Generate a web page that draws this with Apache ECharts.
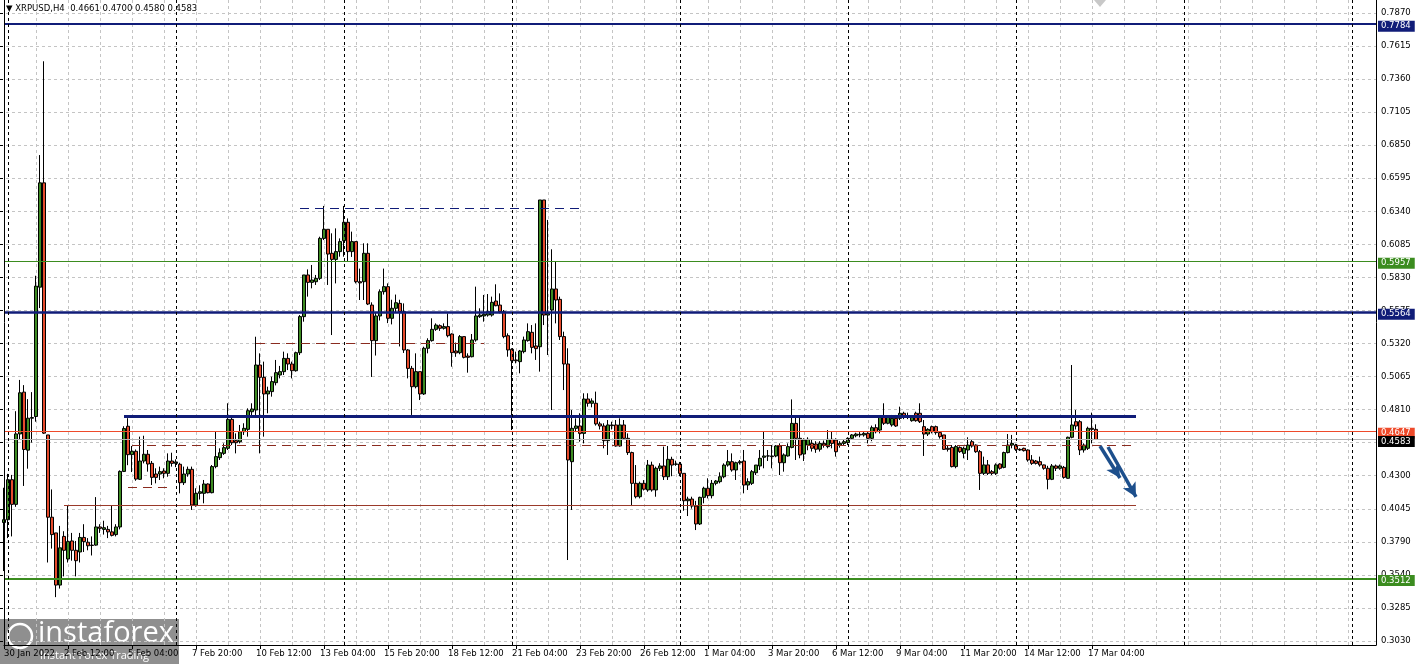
<!DOCTYPE html>
<html>
<head>
<meta charset="utf-8">
<title>XRPUSD H4</title>
<script src="https://cdn.jsdelivr.net/npm/echarts@6/dist/echarts.min.js"></script>
<style>
  html, body { margin: 0; padding: 0; background: #fff; }
  #chart { width: 1418px; height: 664px; }
</style>
</head>
<body>
<div id="chart"></div>
<script>
// H4 bars, the first one is 30 Jan 20:00, one slot per bar
const opens = [
  0.3943,0.3965,0.4273,0.4083,0.4626,0.4948,0.4501,0.4747,0.4760,0.5757,
  0.6561,0.4618,0.3984,0.3863,0.3461,0.3836,0.3662,0.3801,0.3729,0.3716,
  0.3828,0.3791,0.3769,0.3769,0.3909,0.3890,0.3890,0.3871,0.3850,0.3909,
  0.4337,0.4685,0.4466,0.4492,0.4276,0.4417,0.4469,0.4399,0.4317,0.4317,
  0.4340,0.4322,0.4417,0.4399,0.4392,0.4250,0.4317,0.4353,0.4078,0.4168,
  0.4168,0.4240,0.4173,0.4374,0.4443,0.4476,0.4515,0.4738,0.4574,0.4566,
  0.4643,0.4661,0.4797,0.4810,0.5157,0.5062,0.4934,0.4952,0.5021,0.5080,
  0.5106,0.5208,0.5165,0.5113,0.5252,0.5530,0.5851,0.5794,0.5799,0.5825,
  0.6133,0.6203,0.6018,0.5971,0.6031,0.6115,0.6257,0.6031,0.6108,0.5799,
  0.5799,0.6018,0.5619,0.5345,0.5535,0.5722,0.5761,0.5517,0.5594,0.5632,
  0.5568,0.5273,0.5131,0.4990,0.5106,0.4934,0.5286,0.5345,0.5432,0.5460,
  0.5440,0.5453,0.5396,0.5265,0.5252,0.5376,0.5226,0.5221,0.5350,0.5530,
  0.5535,0.5542,0.5542,0.5650,0.5619,0.5568,0.5383,0.5278,0.5196,0.5183,
  0.5260,0.5345,0.5409,0.5304,0.5298,0.6429,0.5542,0.5581,0.5743,0.5663,
  0.5376,0.5165,0.4412,0.4669,0.4687,0.4630,0.4895,0.4862,0.4862,0.4703,
  0.4687,0.4574,0.4695,0.4695,0.4533,0.4695,0.4592,0.4482,0.4245,0.4142,
  0.4245,0.4194,0.4386,0.4194,0.4361,0.4379,0.4296,0.4430,0.4392,0.4394,
  0.4322,0.4111,0.4124,0.4070,0.3932,0.4137,0.4207,0.4150,0.4245,0.4258,
  0.4296,0.4386,0.4412,0.4348,0.4404,0.4417,0.4232,0.4245,0.4327,0.4379,
  0.4446,0.4456,0.4456,0.4456,0.4533,0.4404,0.4456,0.4522,0.4707,0.4592,
  0.4471,0.4540,0.4553,0.4548,0.4508,0.4553,0.4528,0.4584,0.4579,0.4540,
  0.4553,0.4559,0.4592,0.4612,0.4618,0.4618,0.4630,0.4592,0.4674,0.4656,
  0.4754,0.4708,0.4695,0.4746,0.4746,0.4785,0.4759,0.4728,0.4785,0.4785,
  0.4682,0.4625,0.4682,0.4682,0.4636,0.4618,0.4515,0.4522,0.4374,0.4522,
  0.4476,0.4502,0.4566,0.4540,0.4489,0.4322,0.4387,0.4335,0.4322,0.4394,
  0.4368,0.4482,0.4540,0.4540,0.4507,0.4515,0.4502,0.4425,0.4417,0.4412,
  0.4387,0.4361,0.4276,0.4379,0.4361,0.4368,0.4284,0.4600,0.4720,0.4720,
  0.4502,0.4515,0.4669,0.4661
];
const highs = [
  0.4211,0.4318,0.4310,0.4801,0.5042,0.5002,0.4894,0.4948,0.5845,0.6775,
  0.7498,0.4618,0.4198,0.3863,0.3917,0.3876,0.4072,0.3863,0.3801,0.3863,
  0.3930,0.3823,0.3836,0.4139,0.3930,0.3957,0.3917,0.4072,0.3930,0.4345,
  0.4685,0.4747,0.4533,0.4506,0.4605,0.4612,0.4502,0.4417,0.4361,0.4374,
  0.4361,0.4476,0.4481,0.4430,0.4404,0.4374,0.4374,0.4374,0.4207,0.4230,
  0.4271,0.4245,0.4386,0.4643,0.4515,0.4553,0.4862,0.4759,0.4630,0.4695,
  0.4708,0.4823,0.4862,0.5375,0.5247,0.5183,0.4990,0.5067,0.5196,0.5150,
  0.5260,0.5247,0.5183,0.5260,0.5542,0.5851,0.5894,0.5928,0.5851,0.6146,
  0.6383,0.6203,0.6172,0.6210,0.6133,0.6383,0.6287,0.6185,0.6108,0.5900,
  0.6095,0.6095,0.5640,0.5560,0.5740,0.5900,0.5786,0.5660,0.5700,0.5660,
  0.5632,0.5280,0.5150,0.5247,0.5106,0.5298,0.5363,0.5517,0.5478,0.5470,
  0.5478,0.5555,0.5401,0.5330,0.5388,0.5376,0.5247,0.5396,0.5761,0.5594,
  0.5697,0.5704,0.5684,0.5779,0.5709,0.5581,0.5401,0.5286,0.5260,0.5273,
  0.5376,0.5478,0.5465,0.5478,0.6429,0.6429,0.6275,0.6049,0.5953,0.5684,
  0.5414,0.5286,0.4810,0.4746,0.4785,0.4939,0.4939,0.4900,0.4952,0.4720,
  0.4708,0.4733,0.4720,0.4733,0.4746,0.4733,0.4630,0.4489,0.4386,0.4258,
  0.4270,0.4425,0.4412,0.4374,0.4400,0.4528,0.4533,0.4450,0.4420,0.4410,
  0.4322,0.4142,0.4142,0.4110,0.4142,0.4219,0.4284,0.4271,0.4271,0.4330,
  0.4399,0.4502,0.4476,0.4412,0.4425,0.4502,0.4284,0.4348,0.4386,0.4502,
  0.4643,0.4502,0.4540,0.4540,0.4553,0.4476,0.4553,0.4892,0.4759,0.4759,
  0.4592,0.4600,0.4580,0.4570,0.4570,0.4575,0.4656,0.4643,0.4592,0.4570,
  0.4580,0.4600,0.4625,0.4635,0.4640,0.4640,0.4640,0.4690,0.4700,0.4770,
  0.4862,0.4770,0.4772,0.4772,0.4836,0.4797,0.4790,0.4770,0.4797,0.4862,
  0.4733,0.4670,0.4690,0.4690,0.4645,0.4618,0.4540,0.4540,0.4540,0.4530,
  0.4528,0.4600,0.4579,0.4545,0.4502,0.4451,0.4425,0.4348,0.4399,0.4400,
  0.4489,0.4625,0.4618,0.4550,0.4515,0.4520,0.4507,0.4463,0.4425,0.4451,
  0.4390,0.4380,0.4394,0.4390,0.4390,0.4379,0.4605,0.5157,0.4810,0.4733,
  0.4553,0.4682,0.4790,0.4700
];
const lows = [
  0.3569,0.3823,0.3836,0.4064,0.4586,0.4225,0.4358,0.4559,0.4720,0.5596,
  0.4626,0.3635,0.3742,0.3368,0.3434,0.3528,0.3635,0.3649,0.3528,0.3635,
  0.3716,0.3729,0.3689,0.3764,0.3863,0.3850,0.3823,0.3836,0.3836,0.3890,
  0.4332,0.4385,0.4332,0.4265,0.4271,0.4399,0.4335,0.4232,0.4245,0.4271,
  0.4284,0.4296,0.4374,0.4370,0.4168,0.4232,0.4296,0.4040,0.4065,0.4120,
  0.4091,0.4168,0.4168,0.4361,0.4425,0.4464,0.4502,0.4540,0.4476,0.4553,
  0.4618,0.4605,0.4759,0.4772,0.4476,0.4605,0.4785,0.4913,0.5000,0.5054,
  0.5080,0.5118,0.5054,0.5106,0.5234,0.5491,0.5684,0.5748,0.5774,0.5812,
  0.6120,0.5774,0.5388,0.5786,0.5992,0.5992,0.5953,0.5990,0.5786,0.5658,
  0.5658,0.5619,0.5065,0.5230,0.5500,0.5700,0.5480,0.5470,0.5560,0.5300,
  0.5250,0.5054,0.4772,0.4977,0.4887,0.4926,0.5247,0.5337,0.5420,0.5420,
  0.5430,0.5370,0.5144,0.5220,0.5240,0.5208,0.5098,0.5216,0.5337,0.5520,
  0.5491,0.5530,0.5530,0.5610,0.5555,0.5363,0.5221,0.4656,0.5170,0.5093,
  0.5247,0.5337,0.5247,0.5196,0.5106,0.5465,0.5234,0.4810,0.5478,0.5350,
  0.4964,0.3654,0.4040,0.4640,0.4566,0.4553,0.4836,0.4831,0.4690,0.4660,
  0.4515,0.4464,0.4660,0.4528,0.4528,0.4579,0.4464,0.4070,0.4129,0.4129,
  0.4190,0.4180,0.4181,0.4142,0.4340,0.4271,0.4271,0.4300,0.4380,0.4300,
  0.4034,0.3993,0.4050,0.3885,0.3924,0.4091,0.4129,0.4129,0.4230,0.4245,
  0.4284,0.4374,0.4335,0.4271,0.4390,0.4168,0.4194,0.4232,0.4309,0.4348,
  0.4361,0.4417,0.4361,0.4446,0.4309,0.4335,0.4451,0.4515,0.4425,0.4438,
  0.4417,0.4500,0.4490,0.4480,0.4490,0.4520,0.4515,0.4515,0.4451,0.4520,
  0.4540,0.4540,0.4580,0.4600,0.4600,0.4605,0.4553,0.4570,0.4630,0.4630,
  0.4695,0.4700,0.4682,0.4680,0.4733,0.4740,0.4740,0.4720,0.4720,0.4710,
  0.4456,0.4610,0.4630,0.4620,0.4590,0.4502,0.4490,0.4368,0.4361,0.4480,
  0.4438,0.4425,0.4520,0.4480,0.4194,0.4309,0.4309,0.4309,0.4309,0.4350,
  0.4361,0.4476,0.4515,0.4495,0.4495,0.4490,0.4412,0.4387,0.4390,0.4374,
  0.4350,0.4199,0.4270,0.4340,0.4350,0.4281,0.4281,0.4592,0.4660,0.4463,
  0.4482,0.4502,0.4553,0.4580
];
const closes = [
  0.3965,0.4273,0.4083,0.4626,0.4943,0.4506,0.4747,0.4752,0.5765,0.6561,
  0.4632,0.3984,0.3850,0.3461,0.3748,0.3729,0.3796,0.3729,0.3649,0.3828,
  0.3796,0.3764,0.3766,0.3909,0.3898,0.3903,0.3871,0.3844,0.3909,0.4337,
  0.4667,0.4466,0.4492,0.4278,0.4417,0.4469,0.4394,0.4291,0.4291,0.4335,
  0.4322,0.4417,0.4399,0.4410,0.4250,0.4317,0.4353,0.4078,0.4168,0.4180,
  0.4240,0.4173,0.4374,0.4451,0.4481,0.4520,0.4738,0.4558,0.4558,0.4643,
  0.4669,0.4805,0.4818,0.5157,0.5062,0.4934,0.4957,0.5029,0.5098,0.5106,
  0.5208,0.5165,0.5113,0.5252,0.5530,0.5851,0.5794,0.5812,0.5825,0.6133,
  0.6203,0.6012,0.5971,0.6031,0.6108,0.6257,0.6031,0.6108,0.5799,0.5790,
  0.6018,0.5627,0.5345,0.5535,0.5722,0.5761,0.5517,0.5594,0.5637,0.5568,
  0.5273,0.5131,0.4990,0.5106,0.4934,0.5286,0.5345,0.5432,0.5465,0.5440,
  0.5453,0.5383,0.5252,0.5250,0.5376,0.5216,0.5216,0.5350,0.5535,0.5542,
  0.5548,0.5568,0.5640,0.5614,0.5568,0.5376,0.5273,0.5190,0.5190,0.5265,
  0.5350,0.5414,0.5293,0.5283,0.6429,0.5542,0.5555,0.5743,0.5658,0.5376,
  0.5165,0.4425,0.4669,0.4687,0.4630,0.4895,0.4862,0.4880,0.4703,0.4687,
  0.4574,0.4695,0.4690,0.4533,0.4695,0.4592,0.4482,0.4245,0.4142,0.4245,
  0.4200,0.4386,0.4194,0.4361,0.4379,0.4296,0.4430,0.4386,0.4394,0.4322,
  0.4111,0.4124,0.4070,0.3932,0.4137,0.4207,0.4150,0.4245,0.4263,0.4296,
  0.4386,0.4412,0.4348,0.4404,0.4412,0.4232,0.4258,0.4335,0.4386,0.4438,
  0.4456,0.4456,0.4451,0.4533,0.4404,0.4464,0.4528,0.4707,0.4592,0.4464,
  0.4579,0.4584,0.4515,0.4508,0.4553,0.4540,0.4584,0.4553,0.4489,0.4553,
  0.4566,0.4592,0.4618,0.4625,0.4623,0.4630,0.4592,0.4674,0.4643,0.4754,
  0.4708,0.4754,0.4746,0.4687,0.4785,0.4759,0.4766,0.4759,0.4728,0.4720,
  0.4625,0.4661,0.4643,0.4636,0.4605,0.4507,0.4507,0.4374,0.4528,0.4489,
  0.4515,0.4540,0.4533,0.4489,0.4322,0.4387,0.4322,0.4322,0.4387,0.4361,
  0.4482,0.4540,0.4553,0.4507,0.4502,0.4497,0.4425,0.4399,0.4399,0.4387,
  0.4361,0.4276,0.4379,0.4361,0.4379,0.4291,0.4600,0.4695,0.4687,0.4502,
  0.4540,0.4669,0.4661,0.4583
];

// one label every 16 bars
const xLabels = [
  '30 Jan 2022', '2 Feb 12:00', '5 Feb 04:00', '7 Feb 20:00', '10 Feb 12:00',
  '13 Feb 04:00', '15 Feb 20:00', '18 Feb 12:00', '21 Feb 04:00', '23 Feb 20:00',
  '26 Feb 12:00', '1 Mar 04:00', '3 Mar 20:00', '6 Mar 12:00', '9 Mar 04:00',
  '11 Mar 20:00', '14 Mar 12:00', '17 Mar 04:00'
];
const yLabels = [
  '0.3030', '0.3285', '0.3540', '0.3790', '0.4045', '0.4300', '0.4555', '0.4810',
  '0.5065', '0.5320', '0.5575', '0.5830', '0.6085', '0.6340', '0.6595', '0.6850',
  '0.7105', '0.7360', '0.7615', '0.7870'
];

// horizontal levels across the whole chart
const levelPrices = [0.7784, 0.5957, 0.5564, 0.4647, 0.4583, 0.3512];
// drawn segments: price, from bar, to bar
const segPrices = [0.4764, 0.6367, 0.5327, 0.4535, 0.4078, 0.4217];
const segFrom = [30, 74, 63, 32, 15, 31];
const segTo = [283, 144, 120, 282, 283, 42];
// weekly separators (bar slots)
const sepSlots = [1, 43, 85, 127, 169, 211, 253, 295, 337];
// forecast arrows: [bar, price] start and end
const arrowFrom = [[274, 0.4533], [276, 0.4525]];
const arrowTo = [[278.5, 0.4286], [282.8, 0.4140]];

const totalSlots = 344;
const yMin = 0.3030;
const yMax = 0.7870;
const yStep = (yMax - yMin) / 19;

const FONT = '"DejaVu Sans", sans-serif';
const NAVY = '#101c78';
const GREEN = '#3b8c1f';
const RED = '#ee4a2a';
const MAROON = '#8a2b1f';

const levelStyles = [
  { color: NAVY, width: 2, box: NAVY },
  { color: GREEN, width: 1, box: GREEN },
  { color: NAVY, width: 2.5, box: NAVY },
  { color: RED, width: 1, box: RED },
  { color: '#b4b4b4', width: 1, box: '#000' },
  { color: GREEN, width: 2, box: GREEN }
];
const segStyles = [
  { color: NAVY, width: 3, type: 'solid' },
  { color: NAVY, width: 1, type: [9, 6] },
  { color: MAROON, width: 1, type: [9, 6] },
  { color: MAROON, width: 1, type: [9, 6] },
  { color: '#9a3a2a', width: 1, type: 'solid' },
  { color: MAROON, width: 1, type: [9, 6] }
];

const slots = [];
for (let i = 0; i < totalSlots; i++) slots.push(String(i));

const candles = opens.map((o, i) => [o, closes[i], lows[i], highs[i]]);

const markData = [];
levelPrices.forEach((p, k) => {
  const s = levelStyles[k];
  markData.push({
    yAxis: p,
    lineStyle: { color: s.color, width: s.width, type: 'solid' },
    label: {
      show: true,
      position: 'end',
      distance: 2,
      offset: [0, 2],
      formatter: p.toFixed(4),
      color: '#fff',
      backgroundColor: s.box,
      fontFamily: FONT,
      fontSize: 8.5,
      padding: [2, 4, 0, 3]
    }
  });
});
segPrices.forEach((p, k) => {
  const s = segStyles[k];
  const ls = { color: s.color, width: s.width, type: s.type };
  markData.push([
    { coord: [segFrom[k], p], lineStyle: ls },
    { coord: [segTo[k], p], lineStyle: ls }
  ]);
});
markData.push({ xAxis: 0, lineStyle: { color: '#000', width: 1, type: 'solid' } });
sepSlots.forEach(s => {
  markData.push({ xAxis: s, lineStyle: { color: '#000', width: 1, type: [3, 3] } });
});
arrowFrom.forEach((a, k) => {
  const ls = { color: '#1d4f8c', width: 3.5, type: 'solid' };
  markData.push([
    { coord: a, symbol: 'none', lineStyle: ls },
    { coord: arrowTo[k], symbol: 'arrow', symbolSize: [11, 14], lineStyle: ls }
  ]);
});

const last = opens.length - 1;
const header = '\u25BC XRPUSD,H4  ' + opens[last].toFixed(4) + ' ' + highs[last].toFixed(4) +
  ' ' + lows[last].toFixed(4) + ' ' + closes[last].toFixed(4);

// ticks every 16 bars; the text is anchored one bar earlier so it starts just left of the tick
const tickSlot = idx => idx % 16 === 0 && idx / 16 < xLabels.length;
const labelSlot = idx => idx === 0 || ((idx + 1) % 16 === 0 && (idx + 1) / 16 < xLabels.length);

const chart = echarts.init(document.getElementById('chart'));
chart.setOption({
  animation: false,
  backgroundColor: '#fff',
  grid: [
    { left: 4, right: 42, top: 0, bottom: 19, outerBoundsMode: 'none' },
    { left: 0, right: 42, top: 13, bottom: 23, outerBoundsMode: 'none' }
  ],
  xAxis: [
    {
      type: 'category',
      gridIndex: 0,
      data: slots,
      boundaryGap: false,
      axisLine: { show: true, lineStyle: { color: '#000', width: 1 } },
      axisTick: { show: true, interval: tickSlot, length: 4, lineStyle: { color: '#000' } },
      axisLabel: {
        interval: labelSlot,
        formatter: (v, idx) => idx === 0 ? xLabels[0] : (xLabels[(idx + 1) / 16] || ''),
        align: 'left',
        margin: 4,
        color: '#000',
        fontFamily: FONT,
        fontSize: 8.5
      },
      splitLine: {
        show: true,
        interval: idx => idx % 8 === 0 && idx > 0,
        lineStyle: { color: '#c4c4c4', type: [3, 3], width: 1 }
      }
    },
    { type: 'value', gridIndex: 1, show: false, min: 0, max: 1 }
  ],
  yAxis: [
    {
      type: 'value',
      gridIndex: 0,
      position: 'right',
      min: 0.299909,
      max: 0.797019,
      axisLine: { show: true, lineStyle: { color: '#000', width: 1 } },
      axisTick: { show: false },
      axisLabel: { show: false },
      splitLine: { show: false }
    },
    {
      type: 'value',
      gridIndex: 1,
      position: 'right',
      min: yMin,
      max: yMax,
      interval: yStep,
      axisLine: { show: false },
      axisTick: { show: true, length: 3, lineStyle: { color: '#000' } },
      axisLabel: {
        margin: 5,
        color: '#000',
        fontFamily: FONT,
        fontSize: 8.5,
        padding: [5, 0, 0, 0],
        formatter: v => yLabels[Math.round((v - yMin) / yStep)] || ''
      },
      splitLine: { show: true, lineStyle: { color: '#c4c4c4', type: [3, 3], width: 1 } }
    }
  ],
  series: [
    {
      type: 'candlestick',
      xAxisIndex: 0,
      yAxisIndex: 0,
      data: candles,
      barWidth: 3,
      clip: false,
      itemStyle: {
        color: '#3d8b22',
        color0: '#e64b2c',
        borderColor: '#000',
        borderColor0: '#000',
        borderWidth: 1
      },
      markLine: {
        silent: true,
        animation: false,
        precision: 4,
        symbol: ['none', 'none'],
        label: { show: false },
        data: markData
      }
    }
  ],
  graphic: [
    {
      type: 'text',
      left: 6,
      top: 4,
      style: { text: header, fill: '#000', font: '8.5px ' + FONT }
    },
    {
      type: 'polygon',
      shape: { points: [[1094, 0], [1106, 0], [1100, 7]] },
      style: { fill: '#c8c8c8' }
    },
    {
      type: 'group',
      left: 0,
      top: 619,
      children: [
        { type: 'rect', shape: { x: 0, y: 0, width: 179, height: 45 }, style: { fill: 'rgba(125,125,125,0.86)' } },
        { type: 'circle', shape: { cx: 20, cy: 17, r: 12 }, style: { fill: 'none', stroke: '#fff', lineWidth: 2.5 } },
        { type: 'text', style: { text: 'instaforex', x: 38, y: 0, fill: '#fff', font: '29px "Open Sans", sans-serif' } },
        { type: 'text', style: { text: 'Instant Forex Trading', x: 40, y: 31, fill: '#fff', font: '11px "Open Sans", sans-serif' } }
      ]
    }
  ]
});
</script>
</body>
</html>
